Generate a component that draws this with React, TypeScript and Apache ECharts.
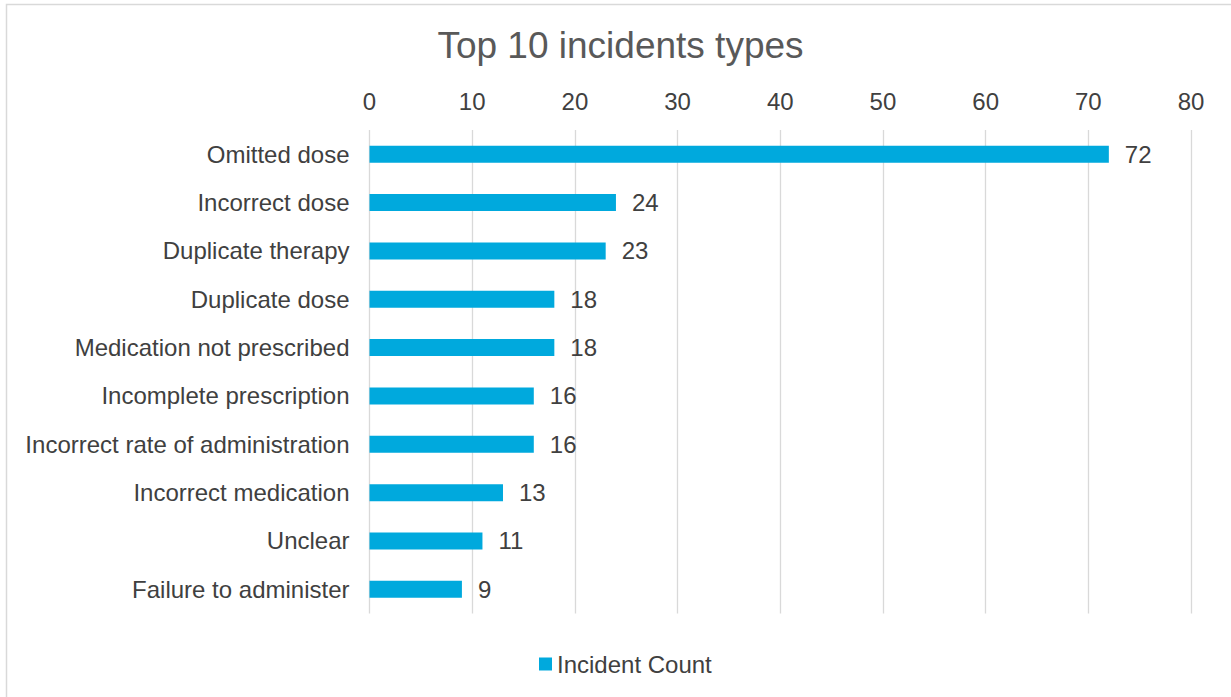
import React, { useEffect, useRef } from "react";
import * as echarts from "echarts";

const categories = [
  "Omitted dose",
  "Incorrect dose",
  "Duplicate therapy",
  "Duplicate dose",
  "Medication not prescribed",
  "Incomplete prescription",
  "Incorrect rate of administration",
  "Incorrect medication",
  "Unclear",
  "Failure to administer",
];
const incidentCounts = [72, 24, 23, 18, 18, 16, 16, 13, 11, 9];
const seriesName = "Incident Count";
const chartTitle = "Top 10 incidents types";
const axisMin = 0;
const axisMax = 80;
const axisInterval = 10;

const FONT = "'Liberation Sans', Arial, Helvetica, sans-serif";
const TEXT = "#404040";
const TITLE = "#595959";
const BAR = "#00A9DD";
const GRID = "#D9D9D9";

export default function App() {
  const ref = useRef<HTMLDivElement | null>(null);
  useEffect(() => {
    if (!ref.current) return;
    const chart = echarts.init(ref.current, undefined, { renderer: "svg" });
    chart.setOption({
      animation: false,
      backgroundColor: "#ffffff",
      textStyle: { fontFamily: FONT, color: TEXT },
      graphic: [
        {
          type: "rect",
          shape: { x: 6.5, y: 4.5, width: 1260, height: 740 },
          style: { fill: "none", stroke: GRID, lineWidth: 1.5 },
          silent: true,
        },
        {
          type: "text",
          x: 620.5,
          y: 45,
          style: {
            text: chartTitle,
            textAlign: "center",
            textVerticalAlign: "middle",
            fontSize: 37,
            fontFamily: FONT,
            fill: TITLE,
          },
        },
      ],
      legend: {
        data: [seriesName],
        icon: "rect",
        itemWidth: 13,
        itemHeight: 13,
        left: 534,
        top: 647,
        textStyle: { fontSize: 24, color: TEXT, fontFamily: FONT },
      },
      grid: { left: 369.5, right: 40, top: 130, bottom: 83.5, containLabel: false },
      xAxis: {
        type: "value",
        position: "top",
        min: axisMin,
        max: axisMax,
        interval: axisInterval,
        axisLine: { show: false },
        axisTick: { show: false },
        axisLabel: { fontSize: 24, color: TEXT, margin: 17, fontFamily: FONT },
        splitLine: { show: true, lineStyle: { color: GRID, width: 1.3 } },
      },
      yAxis: {
        type: "category",
        inverse: true,
        data: categories,
        axisLine: { show: false },
        axisTick: { show: false },
        axisLabel: { fontSize: 24, color: TEXT, margin: 20, fontFamily: FONT },
      },
      series: [
        {
          name: seriesName,
          type: "bar",
          data: incidentCounts,
          barWidth: 17,
          itemStyle: { color: BAR },
          label: {
            show: true,
            position: "right",
            distance: 16,
            fontSize: 24,
            color: TEXT,
            fontFamily: FONT,
          },
        },
      ],
    });
    return () => chart.dispose();
  }, []);
  return (
    <div
      ref={ref}
      style={{ position: "absolute", left: 0, top: 0, width: 1231, height: 697 }}
    />
  );
}
